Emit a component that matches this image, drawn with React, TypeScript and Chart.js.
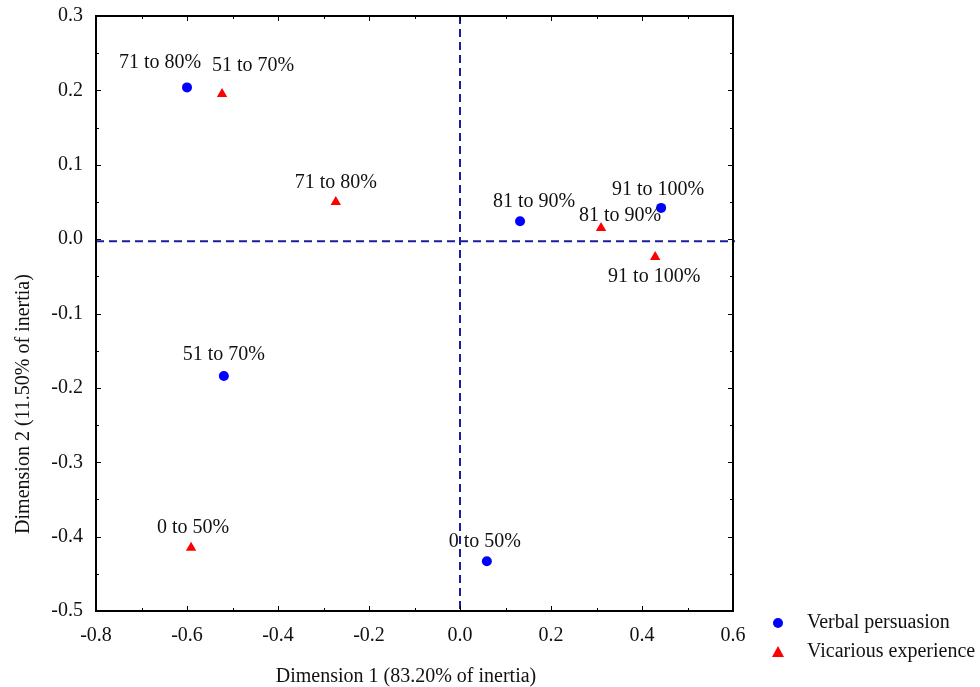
import React, { useEffect, useRef } from "react";
import { Chart, registerables } from "chart.js";
Chart.register(...registerables);

const labels = ["0 to 50%", "51 to 70%", "71 to 80%", "81 to 90%", "91 to 100%"];
const verbalX = [0.059, -0.519, -0.6, 0.132, 0.442];
const verbalY = [-0.433, -0.184, 0.204, 0.024, 0.042];
const vicariousX = [-0.591, -0.523, -0.273, 0.31, 0.429];
const vicariousY = [-0.415, 0.195, 0.05, 0.015, -0.024];
const xTicks = [-0.8, -0.6, -0.4, -0.2, 0.0, 0.2, 0.4, 0.6];
const yTicks = [0.3, 0.2, 0.1, 0.0, -0.1, -0.2, -0.3, -0.4, -0.5];
const xTitle = "Dimension 1 (83.20% of inertia)";
const yTitle = "Dimension 2 (11.50% of inertia)";
const seriesNames = ["Verbal persuasion", "Vicarious experience"];

// label pixel offsets (style only)
const verbalLabelOffsets = [[-2, -19], [0, -21], [-27, -25], [14, -20], [-3, -18]];
const vicariousLabelOffsets = [[2, -20], [31, -28], [0, -19], [19, -12], [-1, 20]];

const FONT = '"Liberation Serif", "Times New Roman", serif';
const NAVY = "#1c1c9c";

const fmt = (v: any) => {
  const n = Number(v);
  return (Math.abs(n) < 1e-9 ? 0 : n).toFixed(1);
};

export default function App() {
  const ref = useRef<HTMLCanvasElement>(null);
  useEffect(() => {
    document.body.style.margin = "0";
    const canvas = ref.current!;
    const decor = {
      id: "decor",
      beforeDatasetsDraw(chart: any) {
        const ctx = chart.ctx;
        const xs = chart.scales.x, ys = chart.scales.y;
        const a = chart.chartArea;
        ctx.save();
        ctx.strokeStyle = NAVY;
        ctx.lineWidth = 2;
        ctx.setLineDash([8, 5]);
        const x0 = xs.getPixelForValue(0);
        ctx.beginPath();
        ctx.moveTo(x0, a.top);
        ctx.lineTo(x0, a.bottom);
        ctx.stroke();
        const y0 = ys.getPixelForValue(-0.003);
        ctx.beginPath();
        ctx.moveTo(a.left, y0);
        ctx.lineTo(a.right + 2, y0);
        ctx.stroke();
        ctx.restore();
      },
      afterDraw(chart: any) {
        const ctx = chart.ctx;
        const xs = chart.scales.x, ys = chart.scales.y;
        const a = chart.chartArea;
        ctx.save();
        ctx.strokeStyle = "#000";
        ctx.lineWidth = 2;
        ctx.setLineDash([]);
        ctx.strokeRect(a.left, a.top, a.right - a.left, a.bottom - a.top);
        ctx.lineWidth = 1;
        for (let i = -8; i <= 6; i++) {
          const v = i / 10;
          const px = Math.round(xs.getPixelForValue(v)) + 0.5;
          const len = i % 2 === 0 ? 5 : 3;
          ctx.beginPath();
          ctx.moveTo(px, a.bottom); ctx.lineTo(px, a.bottom - len);
          ctx.moveTo(px, a.top); ctx.lineTo(px, a.top + len);
          ctx.stroke();
        }
        for (let i = -10; i <= 6; i++) {
          const v = i / 20;
          const py = Math.round(ys.getPixelForValue(v)) + 0.5;
          const len = i % 2 === 0 ? 5 : 3;
          ctx.beginPath();
          ctx.moveTo(a.left, py); ctx.lineTo(a.left + len, py);
          ctx.moveTo(a.right, py); ctx.lineTo(a.right - len, py);
          ctx.stroke();
        }
        ctx.fillStyle = "#111";
        ctx.font = `20px ${FONT}`;
        ctx.textBaseline = "middle";
        ctx.textAlign = "center";
        xTicks.forEach((v) => ctx.fillText(fmt(v), xs.getPixelForValue(v), a.bottom + 25));
        ctx.textAlign = "right";
        yTicks.forEach((v) => ctx.fillText(fmt(v), a.left - 13, ys.getPixelForValue(v)));
        ctx.textAlign = "center";
        labels.forEach((t, i) => {
          const px = xs.getPixelForValue(verbalX[i]);
          const py = ys.getPixelForValue(verbalY[i]);
          ctx.fillText(t, px + verbalLabelOffsets[i][0], py + verbalLabelOffsets[i][1]);
        });
        labels.forEach((t, i) => {
          const px = xs.getPixelForValue(vicariousX[i]);
          const py = ys.getPixelForValue(vicariousY[i]);
          ctx.fillText(t, px + vicariousLabelOffsets[i][0], py + vicariousLabelOffsets[i][1]);
        });
        ctx.fillText(xTitle, 406, 677);
        ctx.save();
        ctx.translate(24, 404);
        ctx.rotate(-Math.PI / 2);
        ctx.fillText(yTitle, 0, 0);
        ctx.restore();
        ctx.textAlign = "left";
        ctx.fillStyle = "#0000ff";
        ctx.beginPath();
        ctx.arc(778, 623, 5, 0, Math.PI * 2);
        ctx.fill();
        ctx.fillStyle = "#ff0000";
        ctx.beginPath();
        ctx.moveTo(778, 646);
        ctx.lineTo(784, 657);
        ctx.lineTo(772, 657);
        ctx.closePath();
        ctx.fill();
        ctx.fillStyle = "#111";
        ctx.fillText(seriesNames[0], 807, 623);
        ctx.fillText(seriesNames[1], 807, 652);
        ctx.restore();
      },
    };
    const chart = new Chart(canvas, {
      type: "scatter",
      data: {
        datasets: [
          {
            label: seriesNames[0],
            data: verbalX.map((x, i) => ({ x, y: verbalY[i] })),
            pointStyle: "circle",
            pointRadius: 5,
            backgroundColor: "#0000ff",
            borderColor: "#0000ff",
            borderWidth: 0,
          },
          {
            label: seriesNames[1],
            data: vicariousX.map((x, i) => ({ x, y: vicariousY[i] })),
            pointStyle: "triangle",
            pointRadius: 6,
            backgroundColor: "#ff0000",
            borderColor: "#ff0000",
            borderWidth: 0,
          },
        ],
      },
      options: {
        animation: false,
        responsive: false,
        layout: { padding: { top: 16, right: 247, left: 0, bottom: 0 } },
        plugins: { legend: { display: false }, tooltip: { enabled: false } },
        scales: {
          x: {
            type: "linear",
            min: -0.8,
            max: 0.6,
            grid: { display: false, drawTicks: false },
            border: { display: false },
            ticks: { display: false, stepSize: 0.2 },
            afterFit: (s: any) => { s.height = 76; },
          },
          y: {
            type: "linear",
            min: -0.5,
            max: 0.3,
            grid: { display: false, drawTicks: false },
            border: { display: false },
            ticks: { display: false, stepSize: 0.1 },
            afterFit: (s: any) => { s.width = 96; },
          },
        },
      },
      plugins: [decor],
    });
    return () => chart.destroy();
  }, []);
  return <canvas ref={ref} width={980} height={687} style={{ display: "block" }} />;
}
